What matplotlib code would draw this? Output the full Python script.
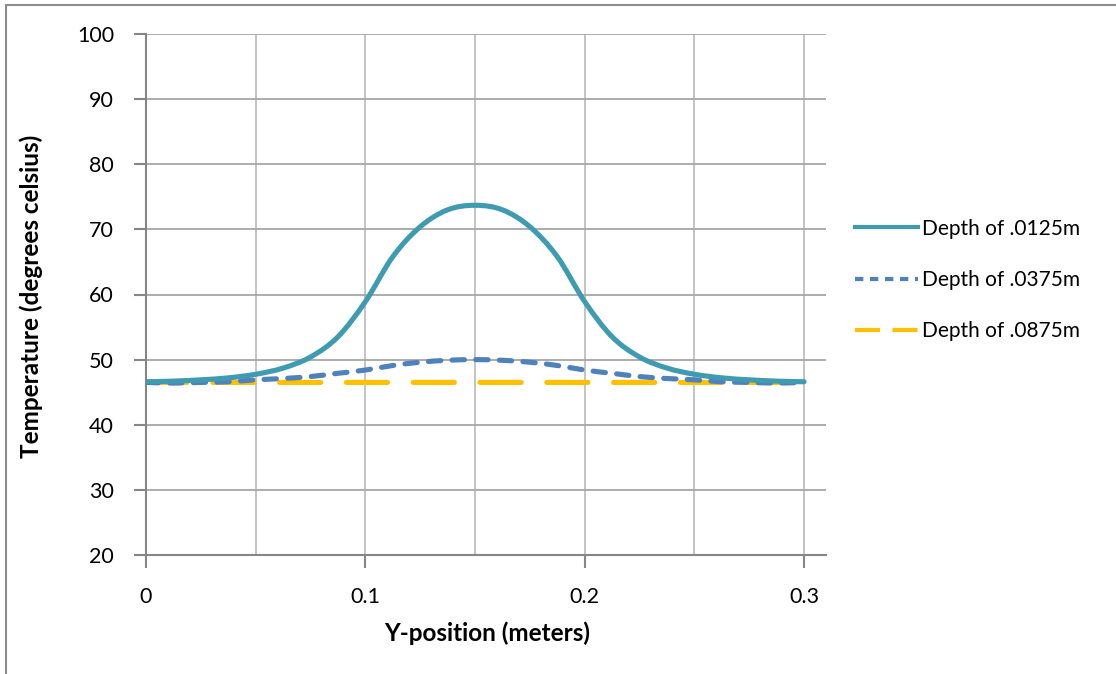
import matplotlib
matplotlib.use("Agg")
import matplotlib.pyplot as plt
from matplotlib.lines import Line2D
from matplotlib.path import Path
from matplotlib.patches import PathPatch

# Data
y_position = [0.0, 0.0125, 0.025, 0.0375, 0.05, 0.0625, 0.075, 0.0875, 0.1, 0.1125, 0.125, 0.1375,
              0.15, 0.1625, 0.175, 0.1875, 0.2, 0.2125, 0.225, 0.2375, 0.25, 0.2625, 0.275, 0.2875, 0.3]
temp_0125 = [46.6, 46.7, 46.9, 47.2, 47.75, 48.7, 50.4, 53.5, 58.9, 65.8, 70.4, 73.0,
             73.7, 73.0, 70.4, 65.8, 58.9, 53.5, 50.4, 48.7, 47.75, 47.2, 46.9, 46.7, 46.6]
temp_0375 = [46.5, 46.4, 46.5, 46.6, 46.9, 47.1, 47.4, 47.9, 48.4, 49.1, 49.6, 49.9,
             50.0, 49.9, 49.6, 49.1, 48.4, 47.9, 47.4, 47.1, 46.9, 46.6, 46.5, 46.4, 46.5]
temp_0875 = [46.5] * 25
series_labels = ["Depth of .0125m", "Depth of .0375m", "Depth of .0875m"]
x_ticks = [0, 0.1, 0.2, 0.3]
x_tick_labels = ["0", "0.1", "0.2", "0.3"]
y_ticks = [20, 30, 40, 50, 60, 70, 80, 90, 100]


def smooth_path(xs, ys):
    """Excel-style smoothed line: cubic Bezier segments through the data points."""
    pts = list(zip(xs, ys))
    n = len(pts)
    verts = [pts[0]]
    codes = [Path.MOVETO]
    for i in range(n - 1):
        p0 = pts[i - 1] if i > 0 else pts[i]
        p1 = pts[i]
        p2 = pts[i + 1]
        p3 = pts[i + 2] if i + 2 < n else pts[i + 1]
        c1 = (p1[0] + (p2[0] - p0[0]) / 6, p1[1] + (p2[1] - p0[1]) / 6)
        c2 = (p2[0] - (p3[0] - p1[0]) / 6, p2[1] - (p3[1] - p1[1]) / 6)
        verts += [c1, c2, p2]
        codes += [Path.CURVE4] * 3
    return Path(verts, codes)


W, H = 1116, 674
plt.rcParams['font.family'] = ['Lato', 'DejaVu Sans']
fig = plt.figure(figsize=(W / 100, H / 100), dpi=100)

# outer chart frame (top and left visible)
fig.add_artist(Line2D([6 / W, 1.0], [1 - 5 / H, 1 - 5 / H], color="#8c8c8c", lw=1.5))
fig.add_artist(Line2D([6 / W, 6 / W], [0, 1 - 5 / H], color="#8c8c8c", lw=1.5))

left, right, top, bottom = 146 / W, 826 / W, 1 - 34 / H, 1 - 555 / H
ax = fig.add_axes([left, bottom, right - left, top - bottom])

c1, c2, c3 = "#3f9bb2", "#4f81bd", "#ffc000"
lw = 3.7
ax.add_patch(PathPatch(smooth_path(y_position, temp_0875), facecolor='none', edgecolor=c3,
                       lw=lw, linestyle=(0, (8, 5)), capstyle='round', zorder=3))
ax.add_patch(PathPatch(smooth_path(y_position, temp_0375), facecolor='none', edgecolor=c2,
                       lw=lw, linestyle=(0, (2.4, 2.2)), capstyle='round', zorder=4))
ax.add_patch(PathPatch(smooth_path(y_position, temp_0125), facecolor='none', edgecolor=c1,
                       lw=lw, capstyle='round', zorder=5))

ax.set_xlim(0, 0.31)
ax.set_ylim(20, 100)
ax.set_xticks(x_ticks)
ax.set_xticklabels(x_tick_labels)
ax.set_xticks([0.05, 0.15, 0.25], minor=True)
ax.set_yticks(y_ticks)

ax.grid(True, which='both', axis='x', color="#bfbfbf", lw=1.3)
ax.grid(True, which='major', axis='y', color="#a6a6a6", lw=1.3)
ax.set_axisbelow(True)
for s in ['top', 'right']:
    ax.spines[s].set_visible(False)
for s in ['left', 'bottom']:
    ax.spines[s].set_color("#868686")
    ax.spines[s].set_linewidth(1.5)
ax.tick_params(axis='both', which='major', direction='out', length=9, width=1.5,
               color="#868686", labelsize=15.5, labelcolor="black")
ax.tick_params(axis='x', which='major', pad=14)
ax.tick_params(axis='y', which='major', pad=14)
ax.tick_params(axis='x', which='minor', length=0)

ax.set_xlabel("Y-position (meters)", fontsize=17.5, fontweight='bold')
ax.set_ylabel("Temperature (degrees celsius)", fontsize=17.5, fontweight='bold')
ax.xaxis.label.set_va('center')
ax.yaxis.label.set_va('center')
ax.xaxis.set_label_coords((487 - 146) / (826 - 146), -(633 - 555) / (555 - 34))
ax.yaxis.set_label_coords((31 - 146) / (826 - 146), (555 - 296) / (555 - 34))

handles = [
    Line2D([], [], color=c1, lw=3),
    Line2D([], [], color=c2, lw=3, dashes=(2.0, 1.6)),
    Line2D([], [], color=c3, lw=3, dashes=(6, 3)),
]
leg = fig.legend(handles, series_labels, loc='center left',
                 bbox_to_anchor=(847 / W, 1 - 280 / H), frameon=False,
                 prop={'size': 15}, borderaxespad=0,
                 handlelength=3.0, handletextpad=0.2, labelspacing=1.5)

fig.savefig("out.png", dpi=100)
